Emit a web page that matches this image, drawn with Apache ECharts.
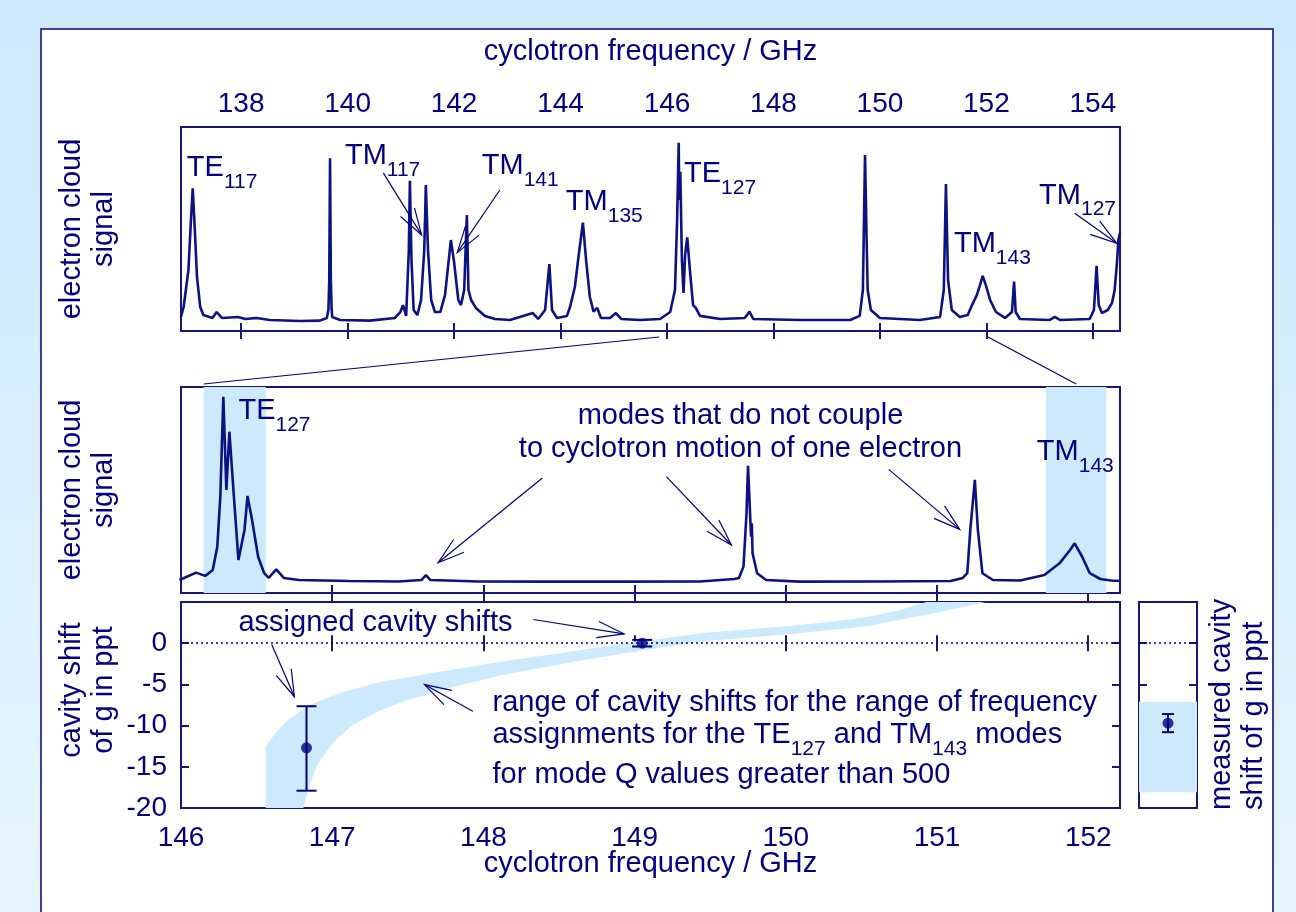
<!DOCTYPE html>
<html>
<head>
<meta charset="utf-8">
<script src="https://cdn.jsdelivr.net/npm/echarts@6/dist/echarts.min.js"></script>
<style>
  html, body { margin: 0; padding: 0; }
  body {
    width: 1296px; height: 912px; overflow: hidden; position: relative;
    background: linear-gradient(to bottom, #cdeafd 0%, #e6f4fe 100%);
  }
  #frame {
    position: absolute; left: 40px; top: 28px; width: 1230px; height: 900px;
    background: #fff; border: 2px solid #3d3d9e;
  }
  #main { position: absolute; left: 0; top: 0; width: 1296px; height: 912px; }
</style>
</head>
<body>
<div id="frame"></div>
<div id="main"></div>
<script>
// spectrum over the full sweep: [frequency / GHz, signal a.u.]
const topSpectrum = [
  [136.87,7.0],[136.92,11.9],[137.01,29.9],[137.05,51.0],[137.09,70.0],[137.13,49.5],[137.17,26.6],
  [137.23,11.9],[137.29,7.8],[137.46,6.4],[137.54,9.3],[137.64,6.4],[137.94,6.9],[138.08,5.9],
  [138.29,6.4],[138.54,5.4],[139.11,4.9],[139.48,5.1],[139.61,6.4],[139.64,10.5],[139.655,25],
  [139.67,84.7],[139.685,25],[139.70,10.5],[139.71,6.9],[139.86,5.4],[140.42,5.1],[140.89,6.4],
  [140.99,9.3],[141.04,12.7],[141.10,7.4],[141.15,39.7],[141.17,73.7],[141.20,34.8],[141.24,10.3],
  [141.31,7.8],[141.38,15.2],[141.44,39.7],[141.47,71.6],[141.51,39.7],[141.57,15.2],[141.64,9.3],
  [141.74,9.3],[141.83,17.6],[141.91,37.3],[141.94,44.6],[142.00,33.8],[142.08,15.2],[142.13,12.7],
  [142.19,20.1],[142.24,56.9],[142.27,20.1],[142.32,15.2],[142.41,11.3],[142.58,7.4],[142.77,5.9],
  [143.05,5.4],[143.48,8.8],[143.58,5.9],[143.71,10.3],[143.79,32.8],[143.84,10.3],[143.93,6.4],
  [144.12,7.4],[144.18,11.9],[144.27,21.7],[144.33,34.8],[144.42,53.1],[144.48,34.8],[144.55,16.8],
  [144.62,9.5],[144.69,11.3],[144.76,6.4],[144.93,6.4],[145.04,8.8],[145.14,5.9],[145.49,5.4],
  [145.87,5.9],[146.06,9.3],[146.15,20.1],[146.19,54.4],[146.22,92.3],[146.23,64.2],[146.25,78.1],
  [146.28,34.8],[146.31,18.6],[146.34,37.3],[146.38,45.9],[146.43,29.9],[146.49,12.7],[146.54,11.3],
  [146.62,7.4],[147.00,5.9],[147.46,6.4],[147.55,9.5],[147.62,5.9],[148.50,5.4],[149.44,5.4],
  [149.62,7.4],[149.68,20.1],[149.72,86.3],[149.75,44.6],[149.77,20.1],[149.83,10.3],[150.00,6.4],
  [150.75,5.4],[151.13,6.9],[151.20,20.1],[151.24,72.1],[151.28,25.0],[151.35,10.3],[151.50,6.9],
  [151.65,7.8],[151.73,12.7],[151.82,17.6],[151.88,22.5],[151.93,27.0],[151.99,22.5],[152.07,15.2],
  [152.18,9.3],[152.35,6.4],[152.48,9.3],[152.52,24.2],[152.55,9.3],[152.63,5.9],[153.19,5.4],
  [153.29,6.9],[153.38,5.4],[153.94,5.9],[154.02,10.3],[154.07,31.9],[154.11,12.7],[154.17,8.8],
  [154.28,10.3],[154.36,13.7],[154.41,20.1],[154.45,32.4],[154.48,44.6],[154.51,48.0]
];

// zoomed spectrum 146 - 152.2 GHz
const midSpectrum = [
  [145.99,6.3],[146.10,9.9],[146.16,8.3],[146.21,11.2],[146.24,22.5],[146.26,46.7],[146.28,95.3],
  [146.30,50.0],[146.32,78.3],[146.35,46.6],[146.38,16.0],[146.42,30.6],[146.44,47.1],[146.47,35.4],
  [146.51,17.6],[146.55,9.6],[146.58,7.3],[146.63,11.5],[146.68,7.3],[146.78,6.3],[147.11,5.8],
  [147.44,5.6],[147.59,6.3],[147.62,8.7],[147.65,6.3],[147.97,5.6],[148.44,5.5],[148.90,5.5],
  [149.43,5.6],[149.66,6.8],[149.69,7.3],[149.72,12.8],[149.74,38.7],[149.75,61.7],[149.77,27.3],
  [149.775,33.8],[149.78,19.3],[149.81,9.6],[149.87,6.3],[150.09,5.5],[150.62,5.6],[151.09,5.8],
  [151.17,7.3],[151.20,9.6],[151.22,30.6],[151.25,54.9],[151.27,30.6],[151.30,9.6],[151.37,6.3],
  [151.55,6.1],[151.71,8.7],[151.81,14.4],[151.88,20.9],[151.91,24.1],[151.96,17.6],[152.01,9.6],
  [152.08,6.8],[152.15,6.1],[152.21,5.8]
];

// frequency windows assigned to TE127 and TM143
const modeWindows = [[146.15, 146.56], [151.72, 152.12]];

// range of cavity shifts (ppt) as a band
const bandUpper = [
  [146.56,-12.6],[146.62,-11.0],[146.70,-9.4],[146.80,-8.1],[146.90,-7.1],[147.08,-5.9],[147.30,-4.8],
  [147.60,-3.8],[147.90,-2.9],[148.14,-2.2],[148.40,-1.5],[148.58,-1.0],[148.80,-0.4],[149.00,0.2],
  [149.20,0.6],[149.44,1.2],[149.70,1.6],[150.02,2.1],[150.30,2.6],[150.55,3.2],[150.75,4.0],[150.93,5.0]
];
const bandLower = [
  [146.56,-20],[146.81,-20],[146.84,-17.8],[146.90,-14.8],[147.00,-12.2],[147.13,-10.0],[147.30,-8.3],
  [147.48,-7.0],[147.74,-5.6],[148.14,-3.8],[148.58,-2.3],[149.00,-1.0],[149.44,0.2],[150.02,1.1],
  [150.55,2.1],[150.88,3.3],[151.02,3.8],[151.32,5.0]
];

// assigned cavity shifts with error bars
const assignedFreq = [146.83, 149.05];
const assignedShift = [-12.7, 0];
const assignedLow = [-17.9, -0.4];
const assignedHigh = [-7.65, 0.4];

// measured cavity shift (side panel)
const measuredShift = [-9.7];
const measuredLow = [-10.8];
const measuredHigh = [-8.6];
const measuredRange = [-18.1, -7.1];

const topTicks = [138, 140, 142, 144, 146, 148, 150, 152, 154];
const midTicks = [147, 148, 149, 150, 151, 152];
const bottomTicks = [146, 147, 148, 149, 150, 151, 152];
const shiftTicks = [-20, -15, -10, -5, 0];

const ink = '#000080';
const lineInk = '#0c1282';
const frameInk = '#16167e';
const bandColor = '#cdeafc';
const font = '"Liberation Sans", Arial, sans-serif';

const chart = echarts.init(document.getElementById('main'), null, { renderer: 'canvas' });

function tickAxis(grid, pos, min, max, ticks, labels) {
  return {
    type: 'value', gridIndex: grid, position: pos, min: min, max: max,
    axisLine: { show: false },
    splitLine: { show: false },
    axisTick: { inside: true, length: 8, customValues: ticks, lineStyle: { color: frameInk, width: 2 } },
    axisLabel: labels
      ? { customValues: ticks, fontSize: 28, color: ink, fontFamily: font, margin: labels }
      : { show: false }
  };
}

function errorBars(cap) {
  return function (params, api) {
    const x = api.value(0);
    const lo = api.coord([x, api.value(2)]);
    const hi = api.coord([x, api.value(3)]);
    const st = { stroke: ink, lineWidth: 2 };
    return {
      type: 'group', children: [
        { type: 'line', shape: { x1: lo[0], y1: lo[1], x2: hi[0], y2: hi[1] }, style: st },
        { type: 'line', shape: { x1: lo[0] - cap, y1: lo[1], x2: lo[0] + cap, y2: lo[1] }, style: st },
        { type: 'line', shape: { x1: hi[0] - cap, y1: hi[1], x2: hi[0] + cap, y2: hi[1] }, style: st }
      ]
    };
  };
}

const zeroLine = {
  silent: true, symbol: 'none', label: { show: false },
  lineStyle: { type: [2, 3], color: ink, width: 1.5 },
  data: [{ yAxis: 0 }]
};

const gridBox = { show: true, borderColor: frameInk, borderWidth: 2, backgroundColor: '#fff' };

chart.setOption({
  animation: false,
  textStyle: { fontFamily: font },
  grid: [
    Object.assign({ left: 181, top: 127, width: 939, height: 204 }, gridBox),
    Object.assign({ left: 181, top: 387, width: 939, height: 206 }, gridBox),
    Object.assign({ left: 181, top: 602, width: 939, height: 206 }, gridBox),
    Object.assign({ left: 1139, top: 602, width: 58, height: 206 }, gridBox)
  ],
  xAxis: [
    Object.assign(tickAxis(0, 'top', 136.87, 154.51, topTicks, 9), {
      name: 'cyclotron frequency / GHz', nameLocation: 'middle', nameGap: 61, nameMoveOverlap: false,
      nameTextStyle: { fontSize: 29, color: ink, fontFamily: font }
    }),
    tickAxis(0, 'bottom', 136.87, 154.51, topTicks),
    tickAxis(1, 'top', 146, 152.21, midTicks),
    tickAxis(1, 'bottom', 146, 152.21, midTicks),
    Object.assign(tickAxis(2, 'bottom', 146, 152.21, bottomTicks, 16), {
      name: 'cyclotron frequency / GHz', nameLocation: 'middle', nameGap: 41, nameMoveOverlap: false,
      nameTextStyle: { fontSize: 29, color: ink, fontFamily: font }
    }),
    tickAxis(2, 'top', 146, 152.21, midTicks),
    { type: 'value', gridIndex: 3, min: 0, max: 1, show: false }
  ],
  yAxis: [
    { type: 'value', gridIndex: 0, min: 0, max: 100, show: false },
    { type: 'value', gridIndex: 1, min: 0, max: 100, show: false },
    tickAxis(2, 'left', -20, 5, shiftTicks, 14),
    tickAxis(2, 'right', -20, 5, shiftTicks),
    tickAxis(3, 'left', -20, 5, shiftTicks),
    tickAxis(3, 'right', -20, 5, shiftTicks)
  ],
  series: [
    {
      type: 'line', xAxisIndex: 0, yAxisIndex: 0, data: topSpectrum,
      showSymbol: false, silent: true, lineStyle: { color: lineInk, width: 2.6 }
    },
    {
      type: 'line', xAxisIndex: 2, yAxisIndex: 1, data: midSpectrum,
      showSymbol: false, silent: true, lineStyle: { color: lineInk, width: 2.6 },
      markArea: {
        silent: true, itemStyle: { color: bandColor },
        data: modeWindows.map(w => [{ xAxis: w[0] }, { xAxis: w[1] }])
      }
    },
    {
      type: 'custom', xAxisIndex: 4, yAxisIndex: 2, z: 1, silent: true,
      data: [[148, 0]],
      renderItem: function (params, api) {
        const pts = bandUpper.concat(bandLower.slice().reverse()).map(p => api.coord(p));
        return { type: 'polygon', shape: { points: pts }, style: { fill: bandColor } };
      }
    },
    {
      type: 'custom', xAxisIndex: 4, yAxisIndex: 2, z: 3, silent: true,
      data: assignedFreq.map((f, i) => [f, assignedShift[i], assignedLow[i], assignedHigh[i]]),
      renderItem: errorBars(10)
    },
    {
      type: 'scatter', xAxisIndex: 4, yAxisIndex: 2, z: 4, silent: true,
      symbolSize: 11, itemStyle: { color: ink },
      data: assignedFreq.map((f, i) => [f, assignedShift[i]]),
      markLine: zeroLine
    },
    {
      type: 'custom', xAxisIndex: 6, yAxisIndex: 4, z: 3, silent: true,
      data: measuredShift.map((s, i) => [0.5, s, measuredLow[i], measuredHigh[i]]),
      renderItem: errorBars(6)
    },
    {
      type: 'scatter', xAxisIndex: 6, yAxisIndex: 4, z: 4, silent: true,
      symbolSize: 11, itemStyle: { color: ink },
      data: measuredShift.map(s => [0.5, s]),
      markLine: zeroLine,
      markArea: {
        silent: true, itemStyle: { color: bandColor },
        data: [[{ yAxis: measuredRange[0] }, { yAxis: measuredRange[1] }]]
      }
    }
  ]
});

// ---- annotations, placed through the series' own coordinate systems ----
function toPx(si, p) { return chart.convertToPixel({ seriesIndex: si }, p); }

const rich = {
  m: { fontSize: 29, lineHeight: 31, verticalAlign: 'top', fill: ink, fontFamily: font },
  s: { fontSize: 21, lineHeight: 21, padding: [18, 0, 0, 0], verticalAlign: 'top', fill: ink, fontFamily: font }
};

// [series, anchor (left or centre of baseline), text, align]
const labels = [
  [0, [136.98, 74.4], '{m|TE}{s|117}'],
  [0, [139.95, 80.5], '{m|TM}{s|117}'],
  [0, [142.52, 75.3], '{m|TM}{s|141}'],
  [0, [144.10, 57.7], '{m|TM}{s|135}'],
  [0, [146.32, 71.6], '{m|TE}{s|127}'],
  [0, [151.39, 37.2], '{m|TM}{s|143}'],
  [0, [152.99, 61.0], '{m|TM}{s|127}'],
  [1, [146.38, 82.9], '{m|TE}{s|127}'],
  [1, [151.66, 63.0], '{m|TM}{s|143}'],
  [1, [149.70, 80.7], '{m|modes that do not couple}', 'center'],
  [1, [149.70, 64.6], '{m|to cyclotron motion of one electron}', 'center'],
  [4, [146.38, 1.06], '{m|assigned cavity shifts}'],
  [4, [148.06, -8.54], '{m|range of cavity shifts for the range of frequency}'],
  [4, [148.06, -12.52], '{m|assignments for the TE}{s|127}{m| and TM}{s|143}{m| modes}'],
  [4, [148.06, -17.38], '{m|for mode Q values greater than 500}']
];

// [series, tail, tip]
const arrows = [
  [0, [140.67, 77.5], [141.39, 47.1]],
  [0, [142.86, 69.1], [142.06, 38.4]],
  [0, [153.66, 57.7], [154.45, 43.0]],
  [1, [148.39, 55.8], [147.70, 14.7]],
  [1, [149.21, 56.5], [149.64, 23.3]],
  [1, [150.68, 60.0], [151.15, 30.9]],
  [4, [146.60, -0.16], [146.75, -6.5]],
  [4, [148.33, 2.88], [148.93, 1.14]],
  [4, [147.93, -8.26], [147.61, -5.02]]
];

// zoom connectors: frequency on top panel -> frequency on middle panel
const connectors = [[145.85, 146.15], [152.03, 151.92]];

const graphics = [];
labels.forEach(function (l) {
  const p = toPx(l[0], l[1]);
  graphics.push({
    type: 'text', x: p[0], y: p[1] - 25.5, z: 100, silent: true,
    style: { text: l[2], rich: rich, align: l[3] || 'left', verticalAlign: 'top', fill: ink, fontFamily: font }
  });
});

arrows.forEach(function (a) {
  const t = toPx(a[0], a[1]);
  const b = toPx(a[0], a[2]);
  const ang = Math.atan2(t[1] - b[1], t[0] - b[0]);
  const L = 28, h = 17 * Math.PI / 180;
  const h1 = [b[0] + L * Math.cos(ang + h), b[1] + L * Math.sin(ang + h)];
  const h2 = [b[0] + L * Math.cos(ang - h), b[1] + L * Math.sin(ang - h)];
  const st = { stroke: ink, lineWidth: 1.2, fill: 'none' };
  graphics.push({ type: 'line', z: 100, silent: true, shape: { x1: t[0], y1: t[1], x2: b[0], y2: b[1] }, style: st });
  graphics.push({ type: 'polyline', z: 100, silent: true, shape: { points: [h1, b, h2] }, style: st });
});

connectors.forEach(function (c) {
  const a = toPx(0, [c[0], 0]);
  const b = toPx(1, [c[1], 0]);
  graphics.push({
    type: 'line', z: 100, silent: true,
    shape: { x1: a[0], y1: 127 + 204 + 6, x2: b[0], y2: 387 - 3 },
    style: { stroke: ink, lineWidth: 1.2 }
  });
});

// rotated axis titles
const sideTitles = [
  [88, 127 + 102, 'electron cloud\nsignal', 'center'],
  [88, 387 + 103, 'electron cloud\nsignal', 'center'],
  [88, 690, 'cavity shift\nof g in ppt', 'center'],
  [1238, 810, 'measured cavity\nshift of g in ppt', 'left']
];
sideTitles.forEach(function (s) {
  graphics.push({
    type: 'text', x: s[0], y: s[1], rotation: Math.PI / 2, z: 100, silent: true,
    style: {
      text: s[2], fontSize: 29, lineHeight: 32, align: s[3], verticalAlign: 'middle',
      fill: ink, fontFamily: font
    }
  });
});

chart.setOption({ graphic: graphics });
</script>
</body>
</html>
